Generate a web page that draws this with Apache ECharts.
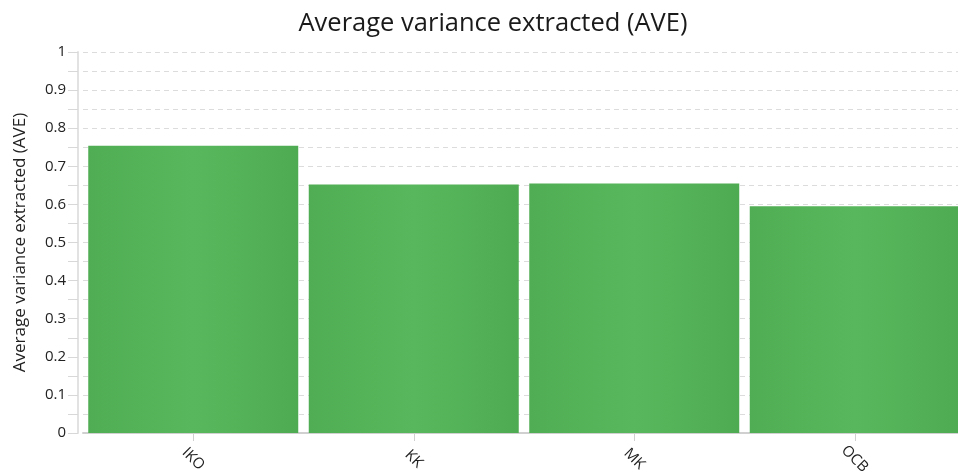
<!DOCTYPE html>
<html>
<head>
<meta charset="utf-8">
<script src="https://cdn.jsdelivr.net/npm/echarts@6/dist/echarts.min.js"></script>
<style>
html,body{margin:0;padding:0;background:#fff;}
#chart{width:958px;height:475px;}
</style>
</head>
<body>
<div id="chart"></div>
<script>
const titleText = 'Average variance extracted (AVE)';
const yAxisTitle = 'Average variance extracted (AVE)';
const categories = ['IKO', 'KK', 'MK', 'OCB'];
const aveValues = [0.754, 0.652, 0.655, 0.595];

const FONT = '"Open Sans", "Noto Sans", sans-serif';
const chart = echarts.init(document.getElementById('chart'), null, {renderer: 'canvas'});
chart.setOption({
  animation: false,
  backgroundColor: '#ffffff',
  title: {
    text: titleText,
    left: 488,
    textAlign: 'center',
    top: 6,
    textStyle: {fontFamily: FONT, fontSize: 25.5, fontWeight: 'normal', color: '#1a1a1a'}
  },
  grid: {left: 83, right: -7, top: 52, bottom: 42, containLabel: false, outerBoundsMode: 'none'},
  xAxis: {
    type: 'category',
    data: categories,
    axisLine: {show: true, lineStyle: {color: '#d0d0d0', width: 2}},
    axisTick: {show: true, alignWithLabel: true, length: 8, lineStyle: {color: '#d0d0d0'}},
    axisLabel: {
      rotate: -45, align: 'center', verticalAlign: 'middle', margin: 26,
      fontFamily: FONT, fontSize: 15, color: '#222'
    },
    splitLine: {show: false}
  },
  yAxis: {
    type: 'value',
    min: 0, max: 1, interval: 0.1,
    offset: 5,
    name: yAxisTitle,
    nameLocation: 'middle',
    nameGap: 49,
    nameTextStyle: {fontFamily: FONT, fontSize: 17, color: '#222'},
    axisLine: {show: true, lineStyle: {color: '#e2e2e2', width: 2}},
    axisTick: {show: true, length: 10, lineStyle: {color: '#d8d8d8'}},
    minorTick: {show: true, splitNumber: 2, length: 10, lineStyle: {color: '#d8d8d8'}},
    axisLabel: {
      margin: 12, fontFamily: FONT, fontSize: 15, color: '#222',
      formatter: v => String(Math.round(v * 10) / 10)
    },
    splitLine: {show: true, lineStyle: {color: '#dcdcdc', type: [5, 4], width: 1}},
    minorSplitLine: {show: true, lineStyle: {color: '#dcdcdc', type: [5, 4], width: 1}}
  },
  series: [{
    type: 'bar',
    data: aveValues,
    barWidth: 210,
    itemStyle: {
      color: new echarts.graphic.LinearGradient(0, 0, 1, 0, [
        {offset: 0, color: '#50ad53'},
        {offset: 0.5, color: '#58b75c'},
        {offset: 1, color: '#4fab52'}
      ])
    }
  }]
});
</script>
</body>
</html>
